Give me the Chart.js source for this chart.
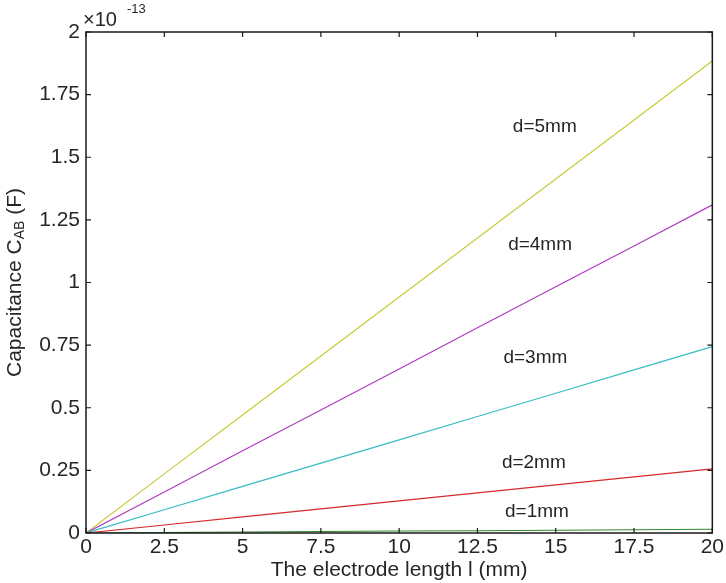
<!DOCTYPE html>
<html>
<head>
<meta charset="utf-8">
<script src="https://cdn.jsdelivr.net/npm/chart.js@4/dist/chart.umd.min.js"></script>
<style>
  html, body { margin: 0; padding: 0; background: #fff; }
  #wrap { width: 726px; height: 583px; }
</style>
</head>
<body>
<div id="wrap"><canvas id="capChart" width="726" height="583"></canvas></div>
<script>
// electrode length (mm) and capacitance values in units of 1e-13 F
var lengthMm = [0, 2.5, 5, 7.5, 10, 12.5, 15, 17.5, 20];
var capD1 = [0, 0.002, 0.004, 0.006, 0.008, 0.009, 0.011, 0.013, 0.015];
var capD2 = [0, 0.032, 0.064, 0.096, 0.128, 0.16, 0.192, 0.224, 0.256];
var capD3 = [0, 0.093, 0.186, 0.279, 0.372, 0.465, 0.558, 0.651, 0.744];
var capD4 = [0, 0.164, 0.328, 0.491, 0.655, 0.819, 0.983, 1.146, 1.31];
var capD5 = [0, 0.236, 0.471, 0.707, 0.942, 1.178, 1.413, 1.649, 1.884];

var seriesNames = ["d=1mm", "d=2mm", "d=3mm", "d=4mm", "d=5mm"];
var xTicks = [0, 2.5, 5, 7.5, 10, 12.5, 15, 17.5, 20];
var yTicks = [0, 0.25, 0.5, 0.75, 1, 1.25, 1.5, 1.75, 2];

// where the text labels sit, in data units
var labelX = [14.4, 14.3, 14.35, 14.5, 14.65];
var labelY = [0.084, 0.28, 0.7, 1.15, 1.62];

var lineColors = ["#2e8b2e", "#d42a2a", "#38bcc6", "#b03cc2", "#c9c93a"];
var FONT = "'Liberation Sans', Arial, sans-serif";
var TEXT = "#262626";

function toPoints(ys) {
  var pts = [];
  for (let i = 0; i < lengthMm.length; i++) {
    pts.push({ x: lengthMm[i], y: ys[i] });
  }
  return pts;
}

var allSeries = [capD1, capD2, capD3, capD4, capD5];
var datasets = [];
for (let i = 0; i < allSeries.length; i++) {
  datasets.push({
    label: seriesNames[i],
    data: toPoints(allSeries[i]),
    borderColor: lineColors[i],
    borderWidth: 1.2,
    pointRadius: 0,
    fill: false,
    tension: 0
  });
}

// box, inward ticks, y title with subscript, exponent, line labels
var matlabStyle = {
  id: "matlabStyle",
  afterDraw: function(chart) {
    var ctx = chart.ctx;
    var a = chart.chartArea;
    var xs = chart.scales.x;
    var ys = chart.scales.y;
    ctx.save();
    ctx.strokeStyle = "#1a1a1a";
    ctx.lineWidth = 1.5;
    ctx.strokeRect(a.left, a.top, a.right - a.left, a.bottom - a.top);
    ctx.lineWidth = 1.2;
    ctx.beginPath();
    xTicks.forEach(function(v) {
      var px = xs.getPixelForValue(v);
      ctx.moveTo(px, a.bottom); ctx.lineTo(px, a.bottom - 5);
      ctx.moveTo(px, a.top); ctx.lineTo(px, a.top + 5);
    });
    yTicks.forEach(function(v) {
      var py = ys.getPixelForValue(v);
      ctx.moveTo(a.left, py); ctx.lineTo(a.left + 5, py);
      ctx.moveTo(a.right, py); ctx.lineTo(a.right - 5, py);
    });
    ctx.stroke();

    ctx.fillStyle = TEXT;
    // line labels
    ctx.font = "19px " + FONT;
    ctx.textAlign = "center";
    ctx.textBaseline = "middle";
    for (let i = 0; i < seriesNames.length; i++) {
      ctx.fillText(seriesNames[i], xs.getPixelForValue(labelX[i]), ys.getPixelForValue(labelY[i]));
    }

    // exponent
    ctx.textAlign = "left";
    ctx.textBaseline = "alphabetic";
    ctx.font = "20px " + FONT;
    ctx.fillText("\u00d710", 83, 26);
    ctx.font = "13px " + FONT;
    ctx.fillText("-13", 127, 13);

    // y title: Capacitance C_AB (F)
    var big = "21px " + FONT, small = "14px " + FONT;
    var p1 = "Capacitance C", p2 = "AB", p3 = " (F)";
    ctx.font = big; var w1 = ctx.measureText(p1).width; var w3 = ctx.measureText(p3).width;
    ctx.font = small; var w2 = ctx.measureText(p2).width;
    var total = w1 + w2 + w3;
    ctx.translate(21, (a.top + a.bottom) / 2);
    ctx.rotate(-Math.PI / 2);
    var sx = -total / 2;
    ctx.font = big; ctx.fillText(p1, sx, 0);
    ctx.font = small; ctx.fillText(p2, sx + w1, 3);
    ctx.font = big; ctx.fillText(p3, sx + w1 + w2, 0);
    ctx.restore();
  }
};

function plainNumber(value) {
  return String(value);
}

const configCap = {
  type: "line",
  data: { datasets: datasets },
  options: {
    responsive: false,
    animation: false,
    devicePixelRatio: 1,
    layout: { padding: { top: 32, right: 13, left: 0, bottom: 0 } },
    plugins: {
      legend: { display: false },
      tooltip: { enabled: false }
    },
    scales: {
      x: {
        type: "linear",
        min: 0,
        max: 20,
        afterFit: function(scale) { scale.height = 50; },
        afterBuildTicks: function(scale) {
          scale.ticks = xTicks.map(function(v) { return { value: v }; });
        },
        grid: { display: false, drawTicks: false },
        border: { display: false },
        ticks: {
          color: TEXT,
          font: { family: FONT, size: 21 },
          padding: 2,
          maxRotation: 0,
          autoSkip: false,
          callback: plainNumber
        },
        title: {
          display: true,
          text: "The electrode length l (mm)",
          color: TEXT,
          font: { family: FONT, size: 21 },
          padding: { top: 0, bottom: 0 }
        }
      },
      y: {
        type: "linear",
        min: 0,
        max: 2,
        afterFit: function(scale) { scale.width = 86; },
        afterBuildTicks: function(scale) {
          scale.ticks = yTicks.map(function(v) { return { value: v }; });
        },
        grid: { display: false, drawTicks: false },
        border: { display: false },
        ticks: {
          color: TEXT,
          font: { family: FONT, size: 21 },
          padding: 6,
          autoSkip: false,
          callback: plainNumber
        }
      }
    }
  },
  plugins: [matlabStyle]
};

var capChart = new Chart(document.getElementById("capChart"), configCap);
</script>
</body>
</html>
